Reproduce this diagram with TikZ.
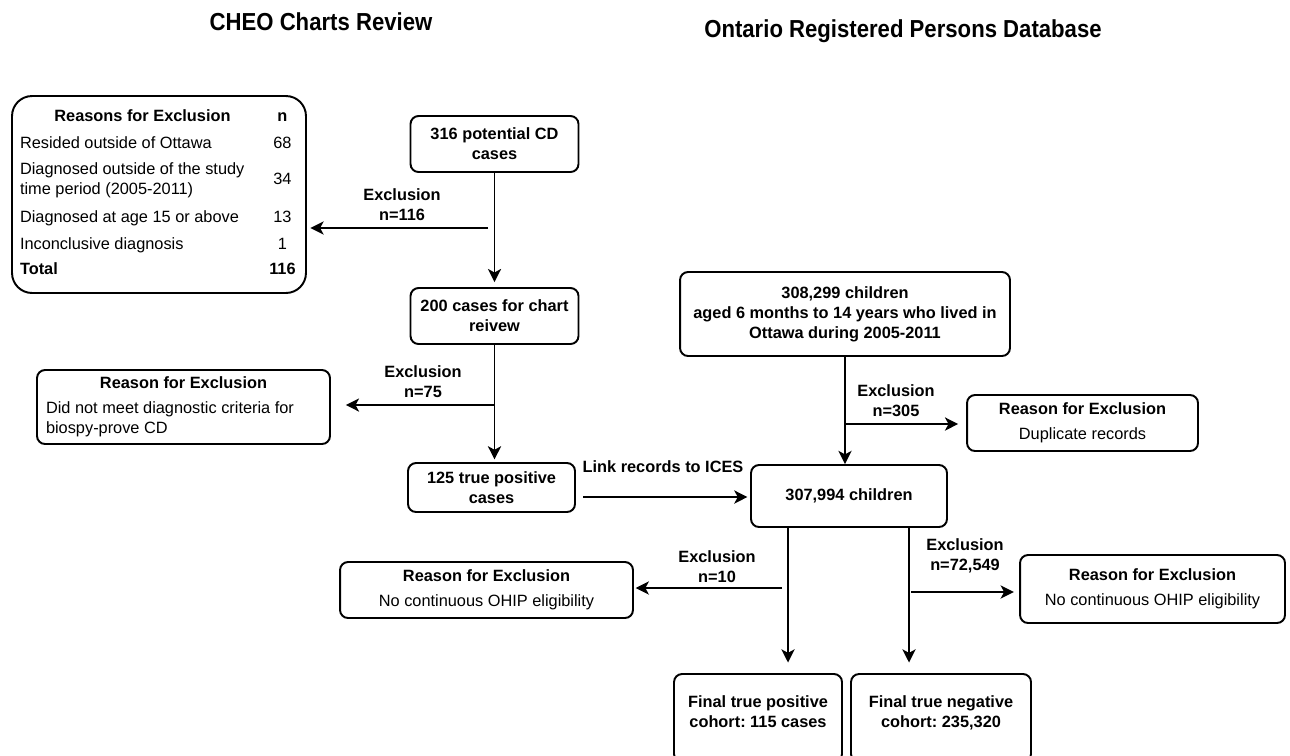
\documentclass[tikz,border=0pt]{standalone}
\usepackage{fontspec}
\setmainfont{Liberation Sans}
\newfontfamily\headfamily[FakeStretch=0.9]{Liberation Sans}
\usepackage{array}
\usetikzlibrary{calc, positioning, arrows.meta}
\frenchspacing

\newcommand{\flowfont}{\fontsize{9.3}{11.3}\selectfont}
\newcommand{\flowbold}{\fontsize{9.3}{11.3}\selectfont\bfseries}
\newcommand{\headfont}{\headfamily\fontsize{14}{16}\selectfont\bfseries}

\tikzset{
  stepbox/.style={draw, line width=1.1pt, rounded corners=0.16cm, align=center, font=\flowbold, inner sep=2pt},
  reasonbox/.style={draw, line width=1.1pt, rounded corners=0.16cm, align=center, font=\flowfont, inner sep=2pt},
  exlabel/.style={align=center, font=\flowbold},
  flow/.style={-{Stealth[length=7.5pt, width=7.5pt, inset=2pt]}, line width=1.1pt}
}

\begin{document}
\begin{tikzpicture}[x=0.02cm, y=-0.02cm]
            \useasboundingbox (0,0) rectangle (1290,755);

            \node[font=\headfont](tcheo) at (321,22){CHEO Charts Review};
            \node[font=\headfont](tordb) at (903,31){Ontario Registered Persons Database};

            \node[draw, line width=1.1pt, rounded corners=0.4cm, minimum width=5.88cm, minimum height=3.94cm](reasons) at (159,194.5){};
            \node[inner sep=0pt, font=\flowfont](reasontab) at (160,194){%
              \begin{tabular}{@{}p{4.9cm}@{}>{\centering\arraybackslash}p{0.7cm}@{}}
                \multicolumn{1}{@{}c@{}}{\bfseries Reasons for Exclusion} & \bfseries n \\[4pt]
                Resided outside of Ottawa & 68 \\[3.7pt]
                Diagnosed outside of the study\newline time period (2005-2011) & \raisebox{-5.7pt}{34} \\ \noalign{\vskip 4.6pt}
                Diagnosed at age 15 or above & 13 \\[4pt]
                Inconclusive diagnosis & 1 \\[2.9pt]
                \bfseries Total & \bfseries 116
              \end{tabular}};
            \node[stepbox, minimum width=3.36cm, minimum height=1.12cm](n316) at (494.5,144){316 potential CD\\cases};
            \node[stepbox, minimum width=3.36cm, minimum height=1.12cm](n200) at (494.5,316){200 cases for chart\\reivew};
            \node[stepbox, minimum width=3.34cm, minimum height=0.98cm](n125) at (491.5,487.5){125 true positive\\cases};
            \node[reasonbox, minimum width=5.86cm, minimum height=1.48cm, align=left](rcrit) at (183.5,407){\makebox[5.5cm][c]{\bfseries Reason for Exclusion}\\[3pt]Did not meet diagnostic criteria for\\biospy-prove CD};

            \node[stepbox, minimum width=6.6cm, minimum height=1.68cm](n308) at (845,314){308,299 children\\aged 6 months to 14 years who lived in\\Ottawa during 2005-2011};
            \node[stepbox, minimum width=3.92cm, minimum height=1.24cm](n307) at (849,496){307,994 children};
            \node[reasonbox, minimum width=4.62cm, minimum height=1.12cm](rdup) at (1082.5,423){\textbf{Reason for Exclusion}\\[3pt]Duplicate records};
            \node[reasonbox, minimum width=5.86cm, minimum height=1.12cm](rohipa) at (486.5,590){\textbf{Reason for Exclusion}\\[3pt]No continuous OHIP eligibility};
            \node[reasonbox, minimum width=5.3cm, minimum height=1.36cm](rohipb) at (1152.5,589){\textbf{Reason for Exclusion}\\[3pt]No continuous OHIP eligibility};
            \node[stepbox, minimum width=3.36cm, minimum height=1.76cm](nfinp) at (758,718){Final true positive\\cohort: 115 cases\rule[-7.5pt]{0pt}{0pt}};
            \node[stepbox, minimum width=3.6cm, minimum height=1.76cm](nfinn) at (941,718){Final true negative\\cohort: 235,320\rule[-7.5pt]{0pt}{0pt}};

            \node[exlabel](l116) at (402,204.5){Exclusion\\n=116};
            \node[exlabel](l75) at (423,382){Exclusion\\n=75};
            \node[exlabel](llink) at (663,467){Link records to ICES};
            \node[exlabel](l305) at (896,400.5){Exclusion\\n=305};
            \node[exlabel](l10) at (717,566.5){Exclusion\\n=10};
            \node[exlabel](l72549) at (965,555.5){Exclusion\\n=72,549};

            \coordinate (x116) at (488,228);
            \coordinate (x75) at (494,405);
            \coordinate (lk) at (583,497);
            \coordinate (x305) at (845,424);
            \coordinate (d1) at (788,527);
            \coordinate (d2) at (909,527);
            \coordinate (x10) at (782,588);
            \coordinate (x72549) at (911,592);

            \path[flow]
            (n316) edge[shorten >=2.8pt] (n200)
            (x116) edge[shorten >=2pt] (x116 -| reasons.east)
            (n200.south) edge[shorten >=1.5pt] (n200.south |- n125.north)
            (x75) edge[shorten >=8.5pt] (x75 -| rcrit.east)
            (lk) edge[shorten >=1.5pt] (lk -| n307.west)
            (n308.south) edge (n308.south |- n307.north)
            (x305) edge[shorten >=4.5pt] (x305 -| rdup.west)
            (d1) edge[shorten >=6pt] (d1 |- nfinp.north)
            (d2) edge[shorten >=6pt] (d2 |- nfinn.north)
            (x10) edge[shorten >=1pt] (x10 -| rohipa.east)
            (x72549) edge[shorten >=3pt] (x72549 -| rohipb.west);
        \end{tikzpicture}
\end{document}
